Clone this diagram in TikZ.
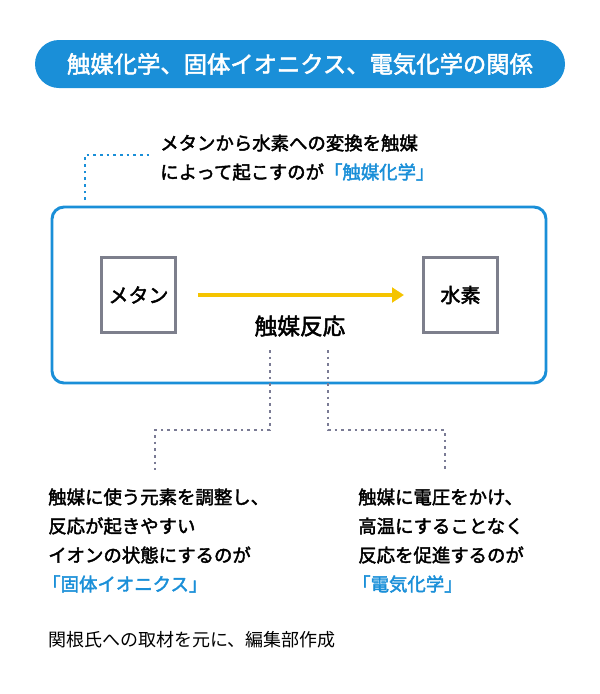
\documentclass[tikz,border=0pt]{standalone}
\usepackage{fontspec}
\usetikzlibrary{arrows.meta}
\setmainfont{Noto Sans CJK JP}
\newfontfamily\jpbold{Noto Sans CJK JP}[FakeBold=2.2]
\definecolor{capblue}{HTML}{1A8FD8}
\definecolor{arrowyellow}{HTML}{F5C400}
\definecolor{boxgray}{HTML}{7D7F8C}
\definecolor{dotgray}{HTML}{7A7B95}
\begin{document}
\begin{tikzpicture}[x=0.75pt,y=-0.75pt]
	\tikzset{>=latex,
		txt/.style={anchor=west,font=\jpbold\fontsize{13.8}{15}\selectfont,inner sep=0pt},
		gbox/.style={draw=boxgray,line width=2.2pt,minimum width=56pt,minimum height=56pt,font=\jpbold\fontsize{15}{16}\selectfont},
		dots/.style={line width=2pt,dash pattern=on 2pt off 3pt}}
	\useasboundingbox (0,0) rectangle (600,694);
	
	% title
	\node[fill=capblue,rounded corners=18pt,minimum width=397.5pt,minimum height=36pt,text=white,font=\jpbold\fontsize{17.5}{18}\selectfont] (title) at (300,64) {触媒化学、固体イオニクス、電気化学の関係};
	
	% top caption
	\node[txt] (cap1) at (160,143) {メタンから水素への変換を触媒};
	\node[txt] (cap2) at (160,172) {によって起こすのが\textcolor{capblue}{「触媒化学」}};
	\coordinate (c1) at (85,200);
	\coordinate (c2) at (150,155);
	\draw[capblue,dots] (c1) |- (c2);
	
	% reaction frame
	\draw[capblue,line width=2.2pt,rounded corners=9pt] (52,207) rectangle (546,383);
	\node[gbox] (ch4) at (138.5,295) {メタン};
	\node[gbox] (h2) at (460.5,295) {水素};
	\coordinate (a1) at (198,295);
	\coordinate (a2) at (404,295);
	\draw[-{Stealth[length=9pt,width=11pt,inset=0pt]},arrowyellow,line width=2.5pt] (a1) -- (a2);
	\node[font=\jpbold\fontsize{17}{18}\selectfont] (react) at (300,326) {触媒反応};
	
	% dotted branches
	\coordinate (l0) at (270,350);
	\coordinate (l1) at (270,430);
	\coordinate (l2) at (155,470);
	\coordinate (r0) at (328,350);
	\coordinate (r1) at (328,430);
	\coordinate (r2) at (445,470);
	\draw[dotgray,dots] (l0) -- (l1) -| (l2);
	\draw[dotgray,dots] (r0) -- (r1) -| (r2);
	
	% left text
	\node[txt] (sl1) at (48,497) {触媒に使う元素を調整し、};
	\node[txt] (sl2) at (48,526) {反応が起きやすい};
	\node[txt] (sl3) at (48,555) {イオンの状態にするのが};
	\node[txt,text=capblue] (sl4) at (42,584) {「固体イオニクス」};
	
	% right text
	\node[txt] (sr1) at (358,497) {触媒に電圧をかけ、};
	\node[txt] (sr2) at (358,526) {高温にすることなく};
	\node[txt] (sr3) at (358,555) {反応を促進するのが};
	\node[txt,text=capblue] (sr4) at (352,584) {「電気化学」};
	
	% source
	\node[anchor=west,inner sep=0pt,font=\fontsize{13.5}{15}\selectfont] (src) at (48,640) {関根氏への取材を元に、編集部作成};
\end{tikzpicture}
\end{document}
